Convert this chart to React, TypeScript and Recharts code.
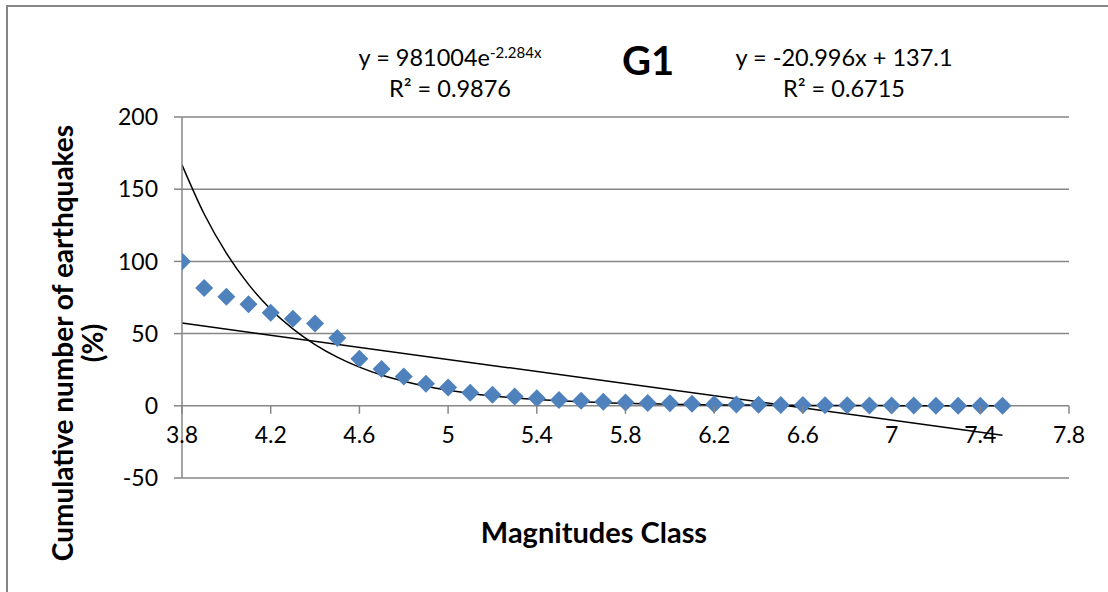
import React from 'react';
import { ComposedChart, Scatter, Line, XAxis, YAxis, CartesianGrid } from 'recharts';

// magnitude classes (x) and cumulative % of earthquakes
const magnitudes = [
  3.8, 3.9, 4.0, 4.1, 4.2, 4.3, 4.4, 4.5, 4.6, 4.7, 4.8, 4.9, 5.0, 5.1, 5.2, 5.3, 5.4, 5.5, 5.6,
  5.7, 5.8, 5.9, 6.0, 6.1, 6.2, 6.3, 6.4, 6.5, 6.6, 6.7, 6.8, 6.9, 7.0, 7.1, 7.2, 7.3, 7.4, 7.5,
];
const cumulativePct = [
  100, 81.5, 75.6, 70.3, 64.5, 60.2, 57, 47, 32.5, 25.5, 20.3, 15.2, 12.7, 9, 7.6, 6.4, 5.3, 4.1, 3.5,
  2.8, 2.3, 2.0, 1.7, 1.4, 1.1, 0.9, 0.7, 0.6, 0.5, 0.4, 0.3, 0.25, 0.2, 0.15, 0.12, 0.1, 0.08, 0.05,
];
// exponential trendline y = 981004e^-2.284x, read at each class
const expTrend = [
  166.9, 132.8, 105.7, 84.1, 66.9, 53.3, 42.4, 33.7, 26.8, 21.3, 17.0, 13.5, 10.75, 8.55, 6.81, 5.42, 4.31, 3.43, 2.73,
  2.17, 1.73, 1.38, 1.1, 0.873, 0.695, 0.553, 0.44, 0.35, 0.279, 0.222, 0.177, 0.141, 0.112, 0.089, 0.071, 0.056, 0.045, 0.036,
];
// linear trendline y = -20.996x + 137.1, end points
const linX = [3.8, 7.5];
const linY = [57.31, -20.37];

const xTicks = [3.8, 4.2, 4.6, 5, 5.4, 5.8, 6.2, 6.6, 7, 7.4, 7.8];
const yTicks = [-50, 0, 50, 100, 150, 200];

const W = 1108;
const H = 592;
const TOP = 117;
const BOTTOM = 114;
const PLOT_H = H - TOP - BOTTOM;
const ZERO_Y = TOP + (PLOT_H * 200) / 250;

const FONT = 'Lato, "Open Sans", sans-serif';
const GRID = '#868686';

const points = magnitudes.map((x, i) => ({ x, y: cumulativePct[i] }));
const expData = magnitudes.map((x, i) => ({ x, y: expTrend[i] }));
const linData = linX.map((x, i) => ({ x, y: linY[i] }));

const Diamond = (props: any) => {
  const { cx, cy } = props;
  const r = 9;
  return (
    <polygon
      points={`${cx},${cy - r} ${cx + r},${cy} ${cx},${cy + r} ${cx - r},${cy}`}
      fill="#4F81BD"
    />
  );
};

const XTick = (props: any) => {
  const { x, payload } = props;
  return (
    <g>
      <line x1={x} y1={ZERO_Y} x2={x} y2={ZERO_Y + 8} stroke={GRID} strokeWidth={1.5} />
      <text x={x} y={ZERO_Y + 37} textAnchor="middle" fontSize={23} fontFamily={FONT} fill="#000">
        {payload.value}
      </text>
    </g>
  );
};

export default function App() {
  return (
    <div style={{ position: 'absolute', left: 0, top: 0, width: W, height: H, overflow: 'hidden', background: '#fff', fontFamily: FONT }}>
      <div style={{ position: 'absolute', left: 6, top: 5, width: 1300, height: 800, border: `2px solid ${GRID}` }} />
      <div style={{ position: 'absolute', left: 0, top: 0 }}>
        <ComposedChart width={W} height={H} margin={{ top: TOP, right: 39, bottom: 0, left: 0 }}>
          <CartesianGrid vertical={false} stroke={GRID} strokeWidth={1.5} />
          <XAxis
            type="number"
            dataKey="x"
            domain={[3.8, 7.8]}
            ticks={xTicks}
            axisLine={false}
            tickLine={false}
            height={BOTTOM}
            tick={<XTick />}
            allowDataOverflow
          />
          <YAxis
            type="number"
            dataKey="y"
            domain={[-50, 200]}
            ticks={yTicks}
            width={182}
            stroke={GRID}
            tickSize={8}
            tickMargin={16}
            tick={{ fill: '#000', fontSize: 23, fontFamily: FONT }}
            axisLine={{ stroke: GRID, strokeWidth: 1.5 }}
            tickLine={{ stroke: GRID, strokeWidth: 1.5 }}
          />
          <Scatter data={points} dataKey="y" shape={<Diamond />} isAnimationActive={false} />
          <Line data={expData} dataKey="y" type="monotone" stroke="#000" strokeWidth={1.5} dot={false} isAnimationActive={false} />
          <Line data={linData} dataKey="y" type="linear" stroke="#000" strokeWidth={1.5} dot={false} isAnimationActive={false} />
        </ComposedChart>
      </div>

      <div style={{ position: 'absolute', left: 300, top: 42, width: 300, textAlign: 'center', fontSize: 23.5, lineHeight: '31px' }}>
        <div>
          y = 981004e<sup style={{ fontSize: 15, verticalAlign: 'top', position: 'relative', top: -5 }}>-2.284x</sup>
        </div>
        <div>R² = 0.9876</div>
      </div>
      <div style={{ position: 'absolute', left: 548, top: 36, width: 200, textAlign: 'center', fontSize: 40, fontWeight: 700 }}>G1</div>
      <div style={{ position: 'absolute', left: 694, top: 42, width: 300, textAlign: 'center', fontSize: 23.5, lineHeight: '31px' }}>
        <div>y = -20.996x + 137.1</div>
        <div>R² = 0.6715</div>
      </div>

      <div style={{ position: 'absolute', left: 394, top: 514, width: 400, textAlign: 'center', fontSize: 29, fontWeight: 700 }}>
        Magnitudes Class
      </div>
      <div
        style={{
          position: 'absolute',
          left: 77 - 300,
          top: 343 - 30,
          width: 600,
          height: 60,
          transform: 'rotate(-90deg)',
          textAlign: 'center',
          fontSize: 28,
          fontWeight: 700,
          lineHeight: '30px',
        }}
      >
        Cumulative number of earthquakes
        <br />
        (%)
      </div>
    </div>
  );
}
